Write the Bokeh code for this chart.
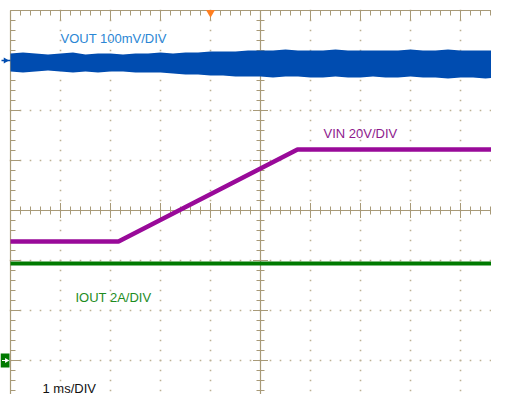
import numpy as np
from bokeh.plotting import figure
from bokeh.models import Range1d
from bokeh.core.properties import value
from bokeh.embed import file_html
from bokeh.resources import INLINE

# ---- data (time in ms from screen centre, 1 ms/DIV; vertical in screen divisions) ----
env_t = [-5.0, -4.75, -4.5, -4.25, -4.0, -3.75, -3.5, -3.25, -3.0, -2.75, -2.5,
         -2.25, -2.0, -1.75, -1.5, -1.25, -1.0, -0.75, -0.5, -0.25, 0.0,
         0.25, 0.5, 0.75, 1.0, 1.25, 1.5, 1.75, 2.0, 2.25, 2.5,
         2.75, 3.0, 3.25, 3.5, 3.75, 4.0, 4.25, 4.5, 4.75, 5.0]
vout_upper = [3.14, 3.16, 3.14, 3.12, 3.14, 3.16, 3.12, 3.14, 3.14, 3.12, 3.14,
              3.14, 3.16, 3.14, 3.16, 3.16, 3.18, 3.18, 3.18, 3.20, 3.20,
              3.20, 3.22, 3.20, 3.20, 3.20, 3.22, 3.20, 3.20, 3.20, 3.20,
              3.20, 3.22, 3.20, 3.20, 3.22, 3.20, 3.20, 3.20, 3.20, 3.20]
vout_lower = [2.78, 2.76, 2.78, 2.80, 2.78, 2.76, 2.78, 2.76, 2.78, 2.78, 2.76,
              2.76, 2.76, 2.74, 2.72, 2.72, 2.70, 2.70, 2.68, 2.68, 2.68,
              2.66, 2.68, 2.68, 2.66, 2.66, 2.68, 2.66, 2.66, 2.68, 2.66,
              2.66, 2.68, 2.66, 2.66, 2.64, 2.66, 2.66, 2.64, 2.66, 2.66]

vin_t = [-5.0, -2.84, 0.74, 5.0]
vin_div = [-0.62, -0.62, 1.22, 1.22]

iout_t = [-5.0, 5.0]
iout_div = [-1.06, -1.06]

labels = ["VOUT 100mV/DIV", "VIN 20V/DIV", "IOUT 2A/DIV", "1 ms/DIV"]

# ---- styling ----
GRID = "#a89a78"
DOT = "#bcb093"
BLUE = "#004cb0"
PURPLE = "#990a99"
GREEN = "#007a00"

p = figure(width=491, height=394, output_backend="svg", toolbar_location=None,
           x_axis_location=None, y_axis_location=None, min_border=0,
           x_range=Range1d((0 - 260) / 50, (491 - 260) / 50),
           y_range=Range1d((210 - 394) / 50, (210 - 0) / 50),
           background_fill_color="white", border_fill_color="white")
p.outline_line_color = None
p.grid.visible = False

XMIN, XMAX, YMIN, YMAX = -5.0, 5.0, -4.0, 4.0
minor = 0.2

# dotted major grid lines
dx, dy = [], []
for gx in [-4, -3, -2, -1, 1, 2, 3, 4]:
    for yy in np.arange(YMIN, YMAX + 1e-9, minor):
        dx.append(gx); dy.append(yy)
for gy in [-3, -2, -1, 1, 2, 3]:
    for xx in np.arange(XMIN, XMAX + 1e-9, minor):
        dx.append(xx); dy.append(gy)
p.scatter(dx, dy, marker="square", size=1.6, color=DOT, line_color=None)

# border and centre axes
p.segment(x0=[XMIN, XMIN, XMIN, XMAX, XMIN, 0], y0=[YMAX, YMIN, YMIN, YMIN, 0, YMIN],
          x1=[XMAX, XMAX, XMIN, XMAX, XMAX, 0], y1=[YMAX, YMIN, YMAX, YMAX, 0, YMAX],
          line_color=GRID, line_width=1.2)

# tick marks
sx0, sy0, sx1, sy1 = [], [], [], []
for xx in np.arange(XMIN, XMAX + 1e-9, minor):
    major = abs(xx - round(xx)) < 1e-6
    L = 0.2 if major else 0.1
    c = 0.15 if major else 0.08
    sx0 += [xx, xx, xx]; sx1 += [xx, xx, xx]
    sy0 += [YMAX, YMIN, -c]; sy1 += [YMAX - L, YMIN + L, c]
for yy in np.arange(YMIN, YMAX + 1e-9, minor):
    major = abs(yy - round(yy)) < 1e-6
    L = 0.2 if major else 0.1
    c = 0.15 if major else 0.08
    sy0 += [yy, yy, yy]; sy1 += [yy, yy, yy]
    sx0 += [XMIN, XMAX, -c]; sx1 += [XMIN + L, XMAX - L, c]
p.segment(x0=sx0, y0=sy0, x1=sx1, y1=sy1, line_color=GRID, line_width=1)

# traces
p.varea(x=env_t, y1=vout_lower, y2=vout_upper, fill_color=BLUE)
p.line(vin_t, vin_div, line_color=PURPLE, line_width=4.5)
p.line(iout_t, iout_div, line_color=GREEN, line_width=4)

# markers
p.scatter([-1.0], [3.96], marker="inverted_triangle", size=9, color="#ff7f20", line_color=None)
p.scatter([-5.1], [3.0], marker="triangle", angle=-np.pi / 2, size=6, color=BLUE, line_color=None)
p.segment(x0=[-5.18], y0=[3.0], x1=[-5.0], y1=[3.0], line_color=BLUE, line_width=1.5)
p.rect([-5.11], [-3.0], width=0.18, height=0.28, fill_color=GREEN, line_color=None)
p.scatter([-5.08], [-3.0], marker="triangle", angle=-np.pi / 2, size=5, color="white", line_color=None)
p.segment(x0=[-5.17], y0=[-3.0], x1=[-5.08], y1=[-3.0], line_color="white", line_width=1.2)

# labels
font = value("Liberation Sans")
p.text(x=[-4.0], y=[3.44], text=[labels[0]], text_color="#2a86d4", text_font=font,
       text_font_size="13px", text_baseline="alphabetic")
p.text(x=[1.26], y=[1.54], text=[labels[1]], text_color="#8e1a8e", text_font=font,
       text_font_size="13px", text_baseline="alphabetic")
p.text(x=[-3.7], y=[-1.73], text=[labels[2]], text_color="#1e8c1e", text_font=font,
       text_font_size="13px", text_baseline="alphabetic")
p.text(x=[-4.36], y=[-3.55], text=[labels[3]], text_color="#111111", text_font=font,
       text_font_size="13px", text_baseline="alphabetic")

open("out.html", "w").write(file_html(p, INLINE))
